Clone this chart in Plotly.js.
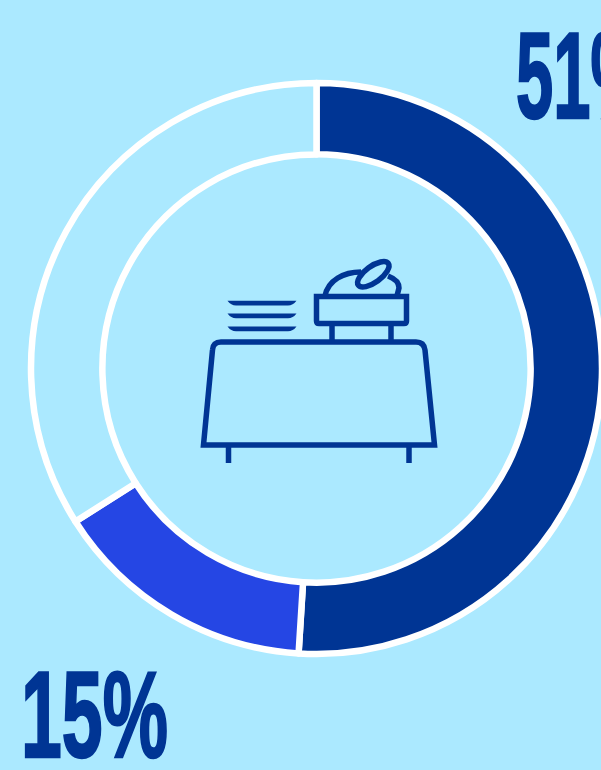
<!DOCTYPE html>
<html>
<head>
<meta charset="utf-8">
<script src="https://cdn.plot.ly/plotly-3.0.1.min.js"></script>
<style>
  html, body { margin: 0; padding: 0; width: 601px; height: 770px; overflow: hidden; background: #ABE9FF; }
</style>
</head>
<body>
<div id="chart"></div>
<script>
// Share of respondents per option; the remainder stays unfilled
const segments = ['Main', 'Secondary', 'Other'];
const shares = [51, 15, 34];
const segmentColors = ['#003594', '#2546E4', '#ABE9FF'];

const INK = '#003594';
const W = 700, H = 770;   // canvas runs past the window so the ring and label can bleed off the edge
const labelWidths = [134, 147];

// Pixel position to paper fraction helpers
const px = x => x / W;
const py = y => 1 - y / H;

// Turns a path written in pixels into paper coordinates
function toPaper(d) {
  return d.replace(/(-?[\d.]+) (-?[\d.]+)/g, (m, x, y) => px(+x).toFixed(5) + ' ' + py(+y).toFixed(5));
}

// Rotated ellipse as four cubic segments
function ellipsePath(cx, cy, a, b, deg) {
  const t = deg * Math.PI / 180, k = 0.5523;
  const p = (u, v) => (cx + u * Math.cos(t) - v * Math.sin(t)).toFixed(2) + ' ' + (cy + u * Math.sin(t) + v * Math.cos(t)).toFixed(2);
  return 'M' + p(a, 0) +
    ' C' + p(a, k * b) + ' ' + p(k * a, b) + ' ' + p(0, b) +
    ' C' + p(-k * a, b) + ' ' + p(-a, k * b) + ' ' + p(-a, 0) +
    ' C' + p(-a, -k * b) + ' ' + p(-k * a, -b) + ' ' + p(0, -b) +
    ' C' + p(k * a, -b) + ' ' + p(a, -k * b) + ' ' + p(a, 0) + ' Z';
}

const strokePaths = [
  // table top and sides
  'M203.5 445 L434.5 445 L425 350 Q424 342 416 342 L221 342 Q213 342 212.5 350 Z',
  // table legs
  'M228.5 445 L228.5 463', 'M409 445 L409 463',
  // warmer stand
  'M332 342 L332 324', 'M391 342 L391 324',
  // warmer tray
  'M316.5 296.5 L406.5 296.5 L406.5 321 Q406.5 323.5 404 323.5 L319 323.5 Q316.5 323.5 316.5 321 Z',
  // dome, left and right of the lid
  'M325 296 C328 280 344 272 361 272', 'M388 276 C396 279 399 284 399 288 L397 296'
];
const platePaths = [
  'M227.5 300.7 L296.5 300.7 Q293 305.5 288 305.5 L236 305.5 Q231 305.5 227.5 300.7 Z',
  'M227.5 313.5 L296.5 313.5 Q293 318.3 288 318.3 L236 318.3 Q231 318.3 227.5 313.5 Z',
  'M227.5 326.4 L296.5 326.4 Q293 331.2 288 331.2 L236 331.2 Q231 331.2 227.5 326.4 Z'
];

const shapes = [
  ...strokePaths.map(d => ({ type: 'path', xref: 'paper', yref: 'paper', path: toPaper(d), line: { color: INK, width: 5.5 }, fillcolor: 'rgba(0,0,0,0)' })),
  ...platePaths.map(d => ({ type: 'path', xref: 'paper', yref: 'paper', path: toPaper(d), line: { width: 0 }, fillcolor: INK })),
  { type: 'path', xref: 'paper', yref: 'paper', path: toPaper(ellipsePath(373.3, 274.3, 18.5, 8, -36)), line: { color: INK, width: 5.5 }, fillcolor: '#ABE9FF' }
];

const bigFont = { family: '"Liberation Sans Narrow", "Liberation Sans", sans-serif', size: 122, color: INK, weight: 700 };

const data = [{
  type: 'pie',
  labels: segments,
  values: shares,
  hole: 0.75,
  sort: false,
  direction: 'clockwise',
  rotation: 0,
  textinfo: 'none',
  hoverinfo: 'label+percent',
  marker: { colors: segmentColors, line: { color: '#FFFFFF', width: 6.5 } },
  domain: { x: [px(31), px(602)], y: [py(654), py(83)] }
}];

const layout = {
  width: W,
  height: H,
  margin: { l: 0, r: 0, t: 0, b: 0 },
  paper_bgcolor: '#ABE9FF',
  plot_bgcolor: '#ABE9FF',
  showlegend: false,
  shapes: shapes,
  annotations: [
    { xref: 'paper', yref: 'paper', x: px(514), y: py(76.5), xanchor: 'left', yanchor: 'middle', text: shares[0] + '%', showarrow: false, font: bigFont },
    { xref: 'paper', yref: 'paper', x: px(19), y: py(714.5), xanchor: 'left', yanchor: 'middle', text: shares[1] + '%', showarrow: false, font: bigFont }
  ]
};

Plotly.newPlot('chart', data, layout, { displayModeBar: false, staticPlot: true }).then(() => {
  // Condense the percentage labels to narrow poster proportions, keeping their left edge in place
  document.querySelectorAll('.annotation-text').forEach((t, i) => {
    const natural = t.getComputedTextLength();
    t.setAttribute('x', parseFloat(t.getAttribute('x')) - (natural - labelWidths[i]) / 2);
    t.setAttribute('textLength', String(labelWidths[i]));
    t.setAttribute('lengthAdjust', 'spacingAndGlyphs');
    t.style.stroke = INK;
    t.style.strokeWidth = '2.5px';
  });
});
</script>
</body>
</html>
